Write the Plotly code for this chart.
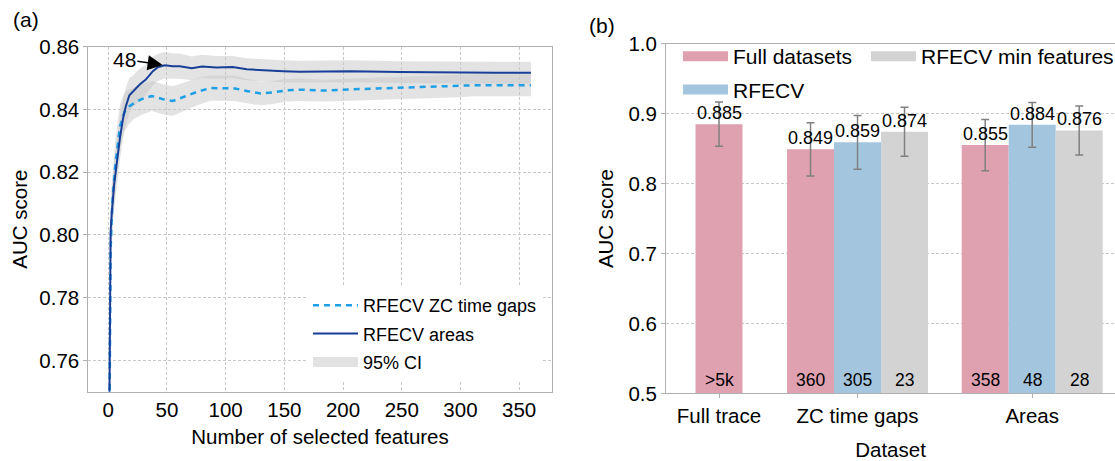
import plotly.graph_objects as go

# ---------------- data: panel (a) ----------------
areas_feat = [1, 2, 3, 4, 5, 7, 10, 13, 15, 18, 21, 24, 27, 32, 38, 42, 48, 55, 61, 71,
              80, 92, 106, 118, 135, 149, 163, 206, 248, 291, 330, 360]
areas_auc = [0.745, 0.801, 0.807, 0.812, 0.816, 0.822, 0.831, 0.838, 0.841, 0.8445,
             0.8457, 0.847, 0.848, 0.8495, 0.8522, 0.8534, 0.8541, 0.8538, 0.8538, 0.8531,
             0.8537, 0.8534, 0.8535, 0.8528, 0.8524, 0.8522, 0.8520, 0.8522, 0.8519, 0.8517,
             0.8517, 0.8517]
areas_ci = [0.012, 0.010, 0.009, 0.008, 0.008, 0.007, 0.007, 0.006, 0.006, 0.0055,
            0.005, 0.005, 0.005, 0.0048, 0.0045, 0.0043, 0.0042, 0.004, 0.004, 0.0038,
            0.0037, 0.0036, 0.0035, 0.0035, 0.0035, 0.0035, 0.0035, 0.0035, 0.0035, 0.0035,
            0.0035, 0.0035]

zc_feat = [1, 2, 3, 4, 6, 8, 10, 14, 18, 22, 28, 37, 47, 55, 67, 77, 87, 98, 108, 119,
           130, 140, 152, 163, 185, 207, 230, 253, 275, 300, 311, 335, 360]
zc_auc = [0.74, 0.795, 0.806, 0.813, 0.822, 0.829, 0.8346, 0.8393, 0.841, 0.842,
          0.8432, 0.8443, 0.8432, 0.8427, 0.8443, 0.8458, 0.8468, 0.8468, 0.8467, 0.8458,
          0.8451, 0.8454, 0.8461, 0.8463, 0.846, 0.8464, 0.8467, 0.8469, 0.8471, 0.8474,
          0.8477, 0.8477, 0.8477]
zc_ci = [0.012, 0.010, 0.009, 0.008, 0.008, 0.007, 0.007, 0.006, 0.0055, 0.005,
         0.005, 0.0048, 0.0048, 0.0047, 0.0045, 0.0043, 0.004, 0.004, 0.004, 0.0039,
         0.0038, 0.0037, 0.0036, 0.0036, 0.0035, 0.0035, 0.0035, 0.0035, 0.0035, 0.0035,
         0.0035, 0.0035, 0.0035]

# ---------------- data: panel (b) ----------------
groups = ["Full trace", "ZC time gaps", "Areas"]
full_auc = [0.885, 0.849, 0.855]
full_err = [0.0315, 0.038, 0.0365]
full_n = [">5k", "360", "358"]
rfecv_groups = ["ZC time gaps", "Areas"]
rfecv_auc = [0.859, 0.884]
rfecv_err = [0.0385, 0.032]
rfecv_n = ["305", "48"]
minf_auc = [0.874, 0.876]
minf_err = [0.035, 0.035]
minf_n = ["23", "28"]

# ---------------- styling ----------------
FONT = "Liberation Sans, Arial, sans-serif"
W, H = 1115, 461
C_DARK = "#183f97"
C_LIGHT = "#1f9fe6"
C_BAND = "rgba(200,200,200,0.5)"
C_PINK = "#dfa1b0"
C_BLUE = "#a3c6de"
C_GRAY = "#d3d3d3"
SPINE = "#b0b0b0"
GRID = "#c8c8c8"
GRID_DASH = "3px,2px"

group_pos = {"Full trace": 0.0, "ZC time gaps": 0.786, "Areas": 1.777}
bw = 0.8 / 3

fig = go.Figure()

# CI bands
def band(xs, ys, hw):
    up = [y + h for y, h in zip(ys, hw)]
    lo = [y - h for y, h in zip(ys, hw)]
    fig.add_trace(go.Scatter(x=xs + xs[::-1], y=up + lo[::-1], fill="toself",
                             fillcolor=C_BAND, line=dict(width=0), mode="lines",
                             hoverinfo="skip", showlegend=False,
                             xaxis="x", yaxis="y"))

band(zc_feat, zc_auc, zc_ci)
band(areas_feat, areas_auc, areas_ci)

fig.add_trace(go.Scatter(x=zc_feat, y=zc_auc, mode="lines", name="RFECV ZC time gaps",
                         line=dict(color=C_LIGHT, width=2.5, dash="6px,5px"),
                         legendgroup="a1", legend="legend", xaxis="x", yaxis="y"))
fig.add_trace(go.Scatter(x=areas_feat, y=areas_auc, mode="lines", name="RFECV areas",
                         line=dict(color=C_DARK, width=2), legendgroup="a2",
                         legend="legend", xaxis="x", yaxis="y"))
fig.add_trace(go.Scatter(x=[None], y=[None], mode="lines", name="95% CI",
                         line=dict(color="#e2e2e2", width=15), legendgroup="a3",
                         legend="legend", xaxis="x", yaxis="y"))

# bars
full_x = [group_pos["Full trace"], group_pos["ZC time gaps"] - bw, group_pos["Areas"] - bw]
rfecv_x = [group_pos[g] for g in rfecv_groups]
minf_x = [group_pos[g] + bw for g in rfecv_groups]

err_style = dict(type="data", color="#808080", thickness=1.5, width=4)
for xs, ys, es, col in [(full_x, full_auc, full_err, C_PINK),
                        (rfecv_x, rfecv_auc, rfecv_err, C_BLUE),
                        (minf_x, minf_auc, minf_err, C_GRAY)]:
    fig.add_trace(go.Bar(x=xs, y=ys, width=bw, marker=dict(color=col, line=dict(width=0)),
                         error_y=dict(array=es, **err_style), showlegend=False,
                         xaxis="x2", yaxis="y2"))

# legend swatches for bars
fig.add_trace(go.Scatter(x=[None], y=[None], mode="lines", name="Full datasets",
                         line=dict(color=C_PINK, width=13), legendgroup="b1",
                         legend="legend2", xaxis="x2", yaxis="y2"))
fig.add_trace(go.Scatter(x=[None], y=[None], mode="lines", name="RFECV",
                         line=dict(color=C_BLUE, width=13), legendgroup="b2",
                         legend="legend2", xaxis="x2", yaxis="y2"))
fig.add_trace(go.Scatter(x=[None], y=[None], mode="lines", name="RFECV min features",
                         line=dict(color=C_GRAY, width=13), legendgroup="b3",
                         legend="legend3", xaxis="x2", yaxis="y2"))

annotations = []
# value and count labels
for xs, ys, ns in [(full_x, full_auc, full_n), (rfecv_x, rfecv_auc, rfecv_n),
                   (minf_x, minf_auc, minf_n)]:
    for x, y, n in zip(xs, ys, ns):
        annotations.append(dict(x=x, y=y, xref="x2", yref="y2", text=f"{y:.3f}",
                                showarrow=False, yanchor="bottom", yshift=-1,
                                font=dict(family=FONT, size=18, color="#000")))
        annotations.append(dict(x=x, y=0.5, xref="x2", yref="y2", text=n,
                                showarrow=False, yanchor="bottom", yshift=1,
                                font=dict(family=FONT, size=17.5, color="#000")))

# peak annotation
peak_i = max(range(len(areas_auc)), key=lambda i: areas_auc[i])
annotations.append(dict(x=areas_feat[peak_i], y=areas_auc[peak_i], xref="x", yref="y",
                        text="48", showarrow=True, axref="x", ayref="y",
                        ax=13.7, ay=0.85595, arrowhead=2, arrowsize=2,
                        arrowwidth=1.5, arrowcolor="#000", standoff=2,
                        font=dict(family=FONT, size=21, color="#000")))
# panel labels
annotations.append(dict(x=11 / W, y=1 - 19 / H, xref="paper", yref="paper", text="(a)",
                        showarrow=False, xanchor="left", yanchor="middle",
                        font=dict(family=FONT, size=21, color="#000")))
annotations.append(dict(x=587 / W, y=1 - 25 / H, xref="paper", yref="paper", text="(b)",
                        showarrow=False, xanchor="left", yanchor="middle",
                        font=dict(family=FONT, size=21, color="#000")))

axis_common = dict(showline=True, linecolor=SPINE, linewidth=1,
                   tickcolor=SPINE, zeroline=False, automargin=False,
                   tickfont=dict(family=FONT, size=20.5, color="#000"))
grid_common = dict(showgrid=True, gridcolor=GRID, griddash=GRID_DASH, gridwidth=1)

fig.update_layout(
    width=W, height=H, autosize=False,
    margin=dict(l=0, r=0, t=0, b=0, autoexpand=False),
    paper_bgcolor="white", plot_bgcolor="white",
    font=dict(family=FONT, color="#000"),
    barmode="overlay",
    xaxis=dict(domain=[88.3 / W, 551.7 / W], range=[-17, 377.7], mirror=True,
               tickvals=[0, 50, 100, 150, 200, 250, 300, 350], ticks="",
               title=dict(text="Number of selected features", standoff=9,
                          font=dict(family=FONT, size=20.5)),
               anchor="y", **grid_common, **axis_common),
    yaxis=dict(domain=[(H - 391.7) / H, (H - 46.7) / H], range=[0.75, 0.86], mirror=True,
               tickvals=[0.76, 0.78, 0.80, 0.82, 0.84, 0.86], tickformat=".2f",
               ticks="outside", ticklen=4,
               title=dict(text="AUC score", standoff=6, font=dict(family=FONT, size=20.5)),
               anchor="x", **grid_common, **axis_common),
    xaxis2=dict(domain=[666 / W, 1.0], range=[-0.3007, 2.2468], mirror=True,
                tickvals=[group_pos[g] for g in groups], ticktext=groups,
                ticks="outside", ticklen=4, showgrid=False,
                title=dict(text="Dataset", standoff=19, font=dict(family=FONT, size=20.5)),
                anchor="y2", **axis_common),
    yaxis2=dict(domain=[(H - 393.4) / H, (H - 43.7) / H], range=[0.5, 1.0],
                tickvals=[0.5, 0.6, 0.7, 0.8, 0.9, 1.0], tickformat=".1f",
                ticks="outside", ticklen=4,
                title=dict(text="AUC score", standoff=9, font=dict(family=FONT, size=20.5)),
                anchor="x2", **grid_common, **axis_common),
    legend=dict(x=308 / W, y=1 - 287 / H, xanchor="left", yanchor="top",
                bgcolor="white", borderwidth=0, traceorder="grouped", tracegroupgap=2,
                itemwidth=45, font=dict(family=FONT, size=18, color="#000")),
    legend2=dict(x=678 / W, y=1 - 36 / H, xanchor="left", yanchor="top",
                 bgcolor="rgba(255,255,255,0)", borderwidth=0, traceorder="grouped",
                 tracegroupgap=3, itemwidth=45,
                 font=dict(family=FONT, size=21, color="#000")),
    legend3=dict(x=866 / W, y=1 - 36 / H, xanchor="left", yanchor="top",
                 bgcolor="rgba(255,255,255,0)", borderwidth=0, itemwidth=45,
                 font=dict(family=FONT, size=21, color="#000")),
    annotations=annotations,
)

fig.write_html("out.html", config={"displayModeBar": False},
               post_script="document.body.style.margin='0';document.body.style.overflow='hidden';")
